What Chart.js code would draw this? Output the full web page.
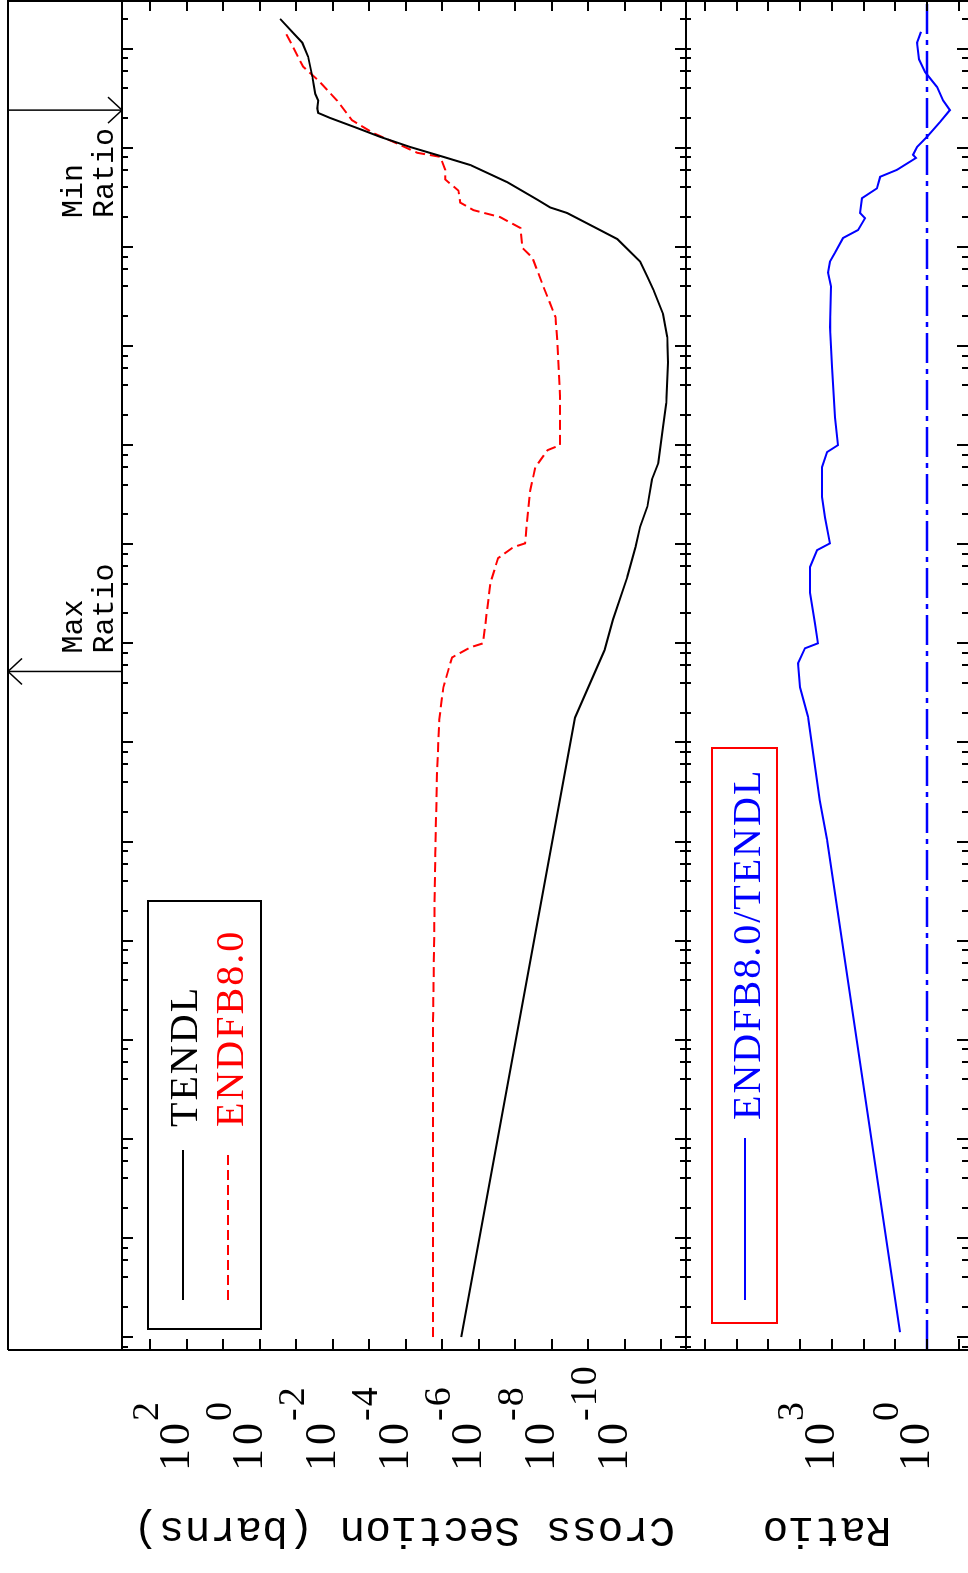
<!DOCTYPE html>
<html>
<head>
<meta charset="utf-8">
<script src="https://cdn.jsdelivr.net/npm/chart.js@4.4.1/dist/chart.umd.min.js"></script>
<style>
    html, body { margin: 0; padding: 0; background: #fff; overflow: hidden; }
    /* the plot is drawn landscape and turned a quarter turn, like the original */
    #land {
        position: absolute; left: 0; top: 0;
        width: 1573px; height: 968px;
        transform-origin: 0 0;
        transform: translate(0px, 1573px) rotate(-90deg);
    }
    #land canvas { position: absolute; left: 0; }
</style>
</head>
<body>
<div id="land">
    <canvas id="csChart" width="1573" height="690" style="top:0"></canvas>
    <canvas id="ratioChart" width="1573" height="282" style="top:686px"></canvas>
</div>
<script>
// --- Data (energy in eV, cross section in barns) ---
const tendlE = [1e-5, 17.8, 85, 174, 468, 935, 1.5e3, 2.4e3, 4.5e3, 6.6e3,
    1.52e4, 2.65e4, 6.8e4, 1.23e5, 2.1e5, 3.7e5, 5.0e5, 7.1e5, 1.2e6, 1.6e6,
    2.2e6, 2.5e6, 3.0e6, 4.5e6, 6.7e6, 8.1e6, 1.02e7, 1.29e7, 1.58e7, 2.0e7,
    2.25e7, 2.5e7, 3.0e7, 3.5e7, 4.3e7, 5.2e7, 8.3e7, 1.15e8, 1.44e8, 2.0e8];
const tendlXS = [3.0e-6, 2.3e-9, 3.6e-10, 2.1e-10, 8.5e-11, 5.1e-11, 3.8e-11, 2.4e-11, 1.8e-11, 1.2e-11,
    8.9e-12, 7.3e-12, 6.5e-12, 6.9e-12, 8.9e-12, 1.65e-11, 2.4e-11, 3.8e-11, 1.6e-10, 7.2e-10,
    3.8e-9, 1.1e-8, 2.5e-8, 1.66e-7, 1.7e-6, 9.3e-6, 7.6e-5, 5.0e-4, 2.1e-3, 0.0117,
    0.025, 0.0266, 0.025, 0.030, 0.033, 0.036, 0.047, 0.068, 0.12, 0.275];

const endfE = [1e-5, 0.0158, 0.76, 5.2, 17, 36, 72, 91, 100, 407,
    724, 935, 1.02e3, 3.5e3, 6.0e3, 8.9e3, 1.0e4, 3.1e4, 1.15e5, 1.96e5,
    4.0e5, 7.8e5, 9.8e5, 1.55e6, 2.0e6, 2.35e6, 2.8e6, 3.7e6, 4.8e6, 6.0e6,
    8.1e6, 8.9e6, 1.15e7, 1.41e7, 1.9e7, 3.0e7, 4.8e7, 6.6e7, 1.48e8];
const endfXS = [1.78e-5, 1.78e-5, 1.55e-5, 1.38e-5, 1.2e-5, 9.3e-6, 5.4e-6, 1.7e-6, 7.6e-7, 4.8e-7,
    2.95e-7, 1.12e-7, 5.4e-8, 3.9e-8, 2.8e-8, 1.3e-8, 5.9e-9, 5.9e-9, 7.1e-9, 7.9e-9,
    1.7e-8, 3.4e-8, 6.4e-8, 7.2e-8, 2.6e-7, 1.4e-6, 3.2e-6, 3.6e-6, 8.3e-6, 8.3e-6,
    1.12e-5, 4.8e-5, 2.2e-4, 7.8e-4, 2.95e-3, 7.6e-3, 0.025, 0.065, 0.2];

const ratioE = [1.12e-5, 1.05, 2.6, 18.2, 36, 63, 89, 100, 158, 324,
    589, 871, 1.02e3, 1.86e3, 3.0e3, 6.0e3, 8.5e3, 1.0e4, 1.9e4, 6.2e4,
    1.55e5, 4.0e5, 5.5e5, 7.1e5, 8.7e5, 1.23e6, 1.48e6, 1.95e6, 2.2e6, 3.1e6,
    3.9e6, 5.1e6, 6.0e6, 7.9e6, 8.5e6, 1.02e7, 1.29e7, 1.82e7, 2.4e7, 3.0e7,
    4.1e7, 5.8e7, 7.8e7, 1.15e8, 1.48e8];
const ratioVal = [7.1, 1420, 2400, 5650, 10200, 11700, 7100, 2750, 3400, 4900,
    4900, 2950, 1150, 1650, 2050, 2050, 1420, 645, 800, 1000,
    1150, 1070, 1320, 1150, 800, 447, 150, 90, 130, 112,
    38, 30, 8.8, 2.22, 2.76, 2.07, 1.0, 0.39, 0.19, 0.31,
    0.48, 1.15, 1.79, 2.07, 1.55];

// axis ranges
const eMin = 7.4e-6, eMax = 3.1e8;
const csMin = 2.1e-12, csMax = 5.9e3;
const ratioMin = 0.051, ratioMax = 4.0e7;
const unityE = [eMin, eMax];
const unityVal = [1, 1];

// tick labels (powers of ten)
const csLabelExp = [2, 0, -2, -4, -6, -8, -10];
const ratioLabelExp = [3, 0];

// arrows above the plot
const minRatioE = 2.4e7;
const maxRatioE = 52;

const MONO = '"Liberation Mono", "DejaVu Sans Mono", monospace';
const SERIF = '"Liberation Serif", "DejaVu Serif", serif';

// --- Helpers ---
function pts(xs, ys) {
    return xs.map((x, i) => ({ x: x, y: ys[i] }));
}

function line(ctx, x1, y1, x2, y2) {
    ctx.beginPath();
    ctx.moveTo(x1, y1);
    ctx.lineTo(x2, y2);
    ctx.stroke();
}

function spaced(ctx, px) {
    // letterSpacing is not everywhere, just skip it then
    if ('letterSpacing' in ctx) ctx.letterSpacing = px + 'px';
}

function energyTickValues(lo, hi) {
    const vals = [];
    for (let k = -6; k <= 8; k++) {
        [1, 2, 4, 6, 8].forEach(m => {
            const v = m * Math.pow(10, k);
            if (v >= lo && v <= hi) vals.push({ v: v, major: m === 1 });
        });
    }
    return vals;
}

function drawEnergyTicks(chart, topLen, botLen) {
    const { ctx, chartArea: a, scales: { x } } = chart;
    energyTickValues(x.min, x.max).forEach(t => {
        const px = Math.round(x.getPixelForValue(t.v));
        line(ctx, px, a.top, px, a.top + (t.major ? topLen[0] : topLen[1]));
        line(ctx, px, a.bottom, px, a.bottom - (t.major ? botLen[0] : botLen[1]));
    });
}

function drawDecadeTicks(chart, len) {
    const { ctx, chartArea: a, scales: { y } } = chart;
    const lo = Math.ceil(Math.log10(y.min)), hi = Math.floor(Math.log10(y.max));
    for (let k = lo; k <= hi; k++) {
        const py = Math.round(y.getPixelForValue(Math.pow(10, k)));
        line(ctx, a.left, py, a.left + len, py);
        line(ctx, a.right, py, a.right - len, py);
    }
}

function drawPowerLabels(chart, exps) {
    const { ctx, scales: { y } } = chart;
    ctx.save();
    ctx.fillStyle = '#000';
    ctx.textAlign = 'left';
    ctx.textBaseline = 'alphabetic';
    exps.forEach(e => {
        const py = y.getPixelForValue(Math.pow(10, e));
        ctx.font = '44px ' + SERIF;
        spaced(ctx, 4);
        ctx.fillText('10', 102, py + 2);
        const w = ctx.measureText('10').width;
        ctx.font = '38px ' + SERIF;
        spaced(ctx, 2);
        ctx.fillText(String(e), 100 + w, py - 29);
    });
    ctx.restore();
}

function drawTitle(ctx, text, cx, cy) {
    ctx.save();
    ctx.translate(cx, cy);
    ctx.rotate(-Math.PI / 2);
    ctx.fillStyle = '#000';
    ctx.font = '43px ' + MONO;
    ctx.textAlign = 'center';
    ctx.textBaseline = 'middle';
    ctx.fillText(text, 0, 0);
    ctx.restore();
}

// --- Upper panel: cross sections ---
const csDecor = {
    id: 'csDecor',
    afterDraw(chart) {
        const { ctx, chartArea: a, scales: { x } } = chart;
        ctx.save();
        ctx.strokeStyle = '#000';
        ctx.lineWidth = 2;

        // frame + the strip above the plot
        line(ctx, a.left, 8, 1573, 8);
        line(ctx, a.left, a.top, 1573, a.top);
        line(ctx, a.left, a.bottom, 1573, a.bottom);
        line(ctx, a.left, 8, a.left, chart.height);
        line(ctx, a.right - 1, 8, a.right - 1, a.bottom);

        drawEnergyTicks(chart, [11, 6], [11, 6]);
        drawDecadeTicks(chart, 11);
        drawPowerLabels(chart, csLabelExp);
        drawTitle(ctx, 'Cross Section (barns)', 44, (a.top + a.bottom) / 2);

        // min / max ratio arrows
        ctx.lineWidth = 1.5;
        const xMin = x.getPixelForValue(minRatioE);
        line(ctx, xMin, 8, xMin, a.top);
        line(ctx, xMin - 13, a.top - 14, xMin, a.top);
        line(ctx, xMin + 13, a.top - 14, xMin, a.top);
        const xMax = x.getPixelForValue(maxRatioE);
        line(ctx, xMax, 8, xMax, a.top);
        line(ctx, xMax - 13, 22, xMax, 8);
        line(ctx, xMax + 13, 22, xMax, 8);

        ctx.fillStyle = '#000';
        ctx.font = '30px ' + MONO;
        ctx.textAlign = 'left';
        ctx.textBaseline = 'alphabetic';
        ctx.fillText('Min', xMin - 108, 82);
        ctx.fillText('Ratio', xMin - 108, 113);
        ctx.fillText('Max', xMax + 18, 82);
        ctx.fillText('Ratio', xMax + 18, 113);

        // legend
        ctx.lineWidth = 2;
        ctx.strokeRect(244, 148, 428, 113);
        line(ctx, 273, 183, 423, 183);
        ctx.strokeStyle = '#ff0000';
        ctx.setLineDash([10, 5]);
        line(ctx, 273, 228, 423, 228);
        ctx.setLineDash([]);
        ctx.font = '40px ' + SERIF;
        spaced(ctx, 2);
        ctx.fillStyle = '#000';
        ctx.fillText('TENDL', 446, 197);
        ctx.fillStyle = '#ff0000';
        ctx.fillText('ENDFB8.0', 446, 243);
        ctx.restore();
    }
};

new Chart(document.getElementById('csChart'), {
    type: 'line',
    data: {
        datasets: [
            {
                label: 'TENDL',
                data: pts(tendlE, tendlXS),
                borderColor: '#000000',
                borderWidth: 2,
                pointRadius: 0,
                tension: 0
            },
            {
                label: 'ENDFB8.0',
                data: pts(endfE, endfXS),
                borderColor: '#ff0000',
                borderWidth: 2,
                borderDash: [10, 5],
                pointRadius: 0,
                tension: 0
            }
        ]
    },
    options: {
        responsive: false,
        animation: false,
        devicePixelRatio: 1,
        layout: { padding: { left: 223, top: 122, right: 0, bottom: 4 } },
        plugins: { legend: { display: false }, tooltip: { enabled: false } },
        scales: {
            x: { type: 'logarithmic', min: eMin, max: eMax, display: false },
            y: { type: 'logarithmic', min: csMin, max: csMax, display: false }
        }
    },
    plugins: [csDecor]
});

// --- Lower panel: ratio ---
const ratioDecor = {
    id: 'ratioDecor',
    afterDraw(chart) {
        const { ctx, chartArea: a } = chart;
        ctx.save();
        ctx.strokeStyle = '#000';
        ctx.lineWidth = 2;
        line(ctx, a.left, 0, a.left, chart.height);
        line(ctx, a.right - 1, 0, a.right - 1, chart.height);

        drawEnergyTicks(chart, [5, 5], [11, 6]);
        drawDecadeTicks(chart, 11);
        drawPowerLabels(chart, ratioLabelExp);
        drawTitle(ctx, 'Ratio', 44, (a.top + a.bottom) / 2);

        // legend
        ctx.strokeStyle = '#ff0000';
        ctx.strokeRect(250, 26, 575, 65);
        ctx.strokeStyle = '#0000ff';
        line(ctx, 273, 59, 435, 59);
        ctx.fillStyle = '#0000ff';
        ctx.font = '40px ' + SERIF;
        spaced(ctx, 2);
        ctx.textAlign = 'left';
        ctx.textBaseline = 'alphabetic';
        ctx.fillText('ENDFB8.0/TENDL', 453, 74);
        ctx.restore();
    }
};

new Chart(document.getElementById('ratioChart'), {
    type: 'line',
    data: {
        datasets: [
            {
                label: 'ENDFB8.0/TENDL',
                data: pts(ratioE, ratioVal),
                borderColor: '#0000ff',
                borderWidth: 2,
                pointRadius: 0,
                tension: 0
            },
            {
                label: 'unity',
                data: pts(unityE, unityVal),
                borderColor: '#0000ff',
                borderWidth: 2.5,
                borderDash: [30, 6, 5, 6],
                pointRadius: 0
            }
        ]
    },
    options: {
        responsive: false,
        animation: false,
        devicePixelRatio: 1,
        layout: { padding: { left: 223, top: 0, right: 0, bottom: 0 } },
        plugins: { legend: { display: false }, tooltip: { enabled: false } },
        scales: {
            x: { type: 'logarithmic', min: eMin, max: eMax, display: false },
            y: { type: 'logarithmic', min: ratioMin, max: ratioMax, display: false }
        }
    },
    plugins: [ratioDecor]
});
</script>
</body>
</html>
